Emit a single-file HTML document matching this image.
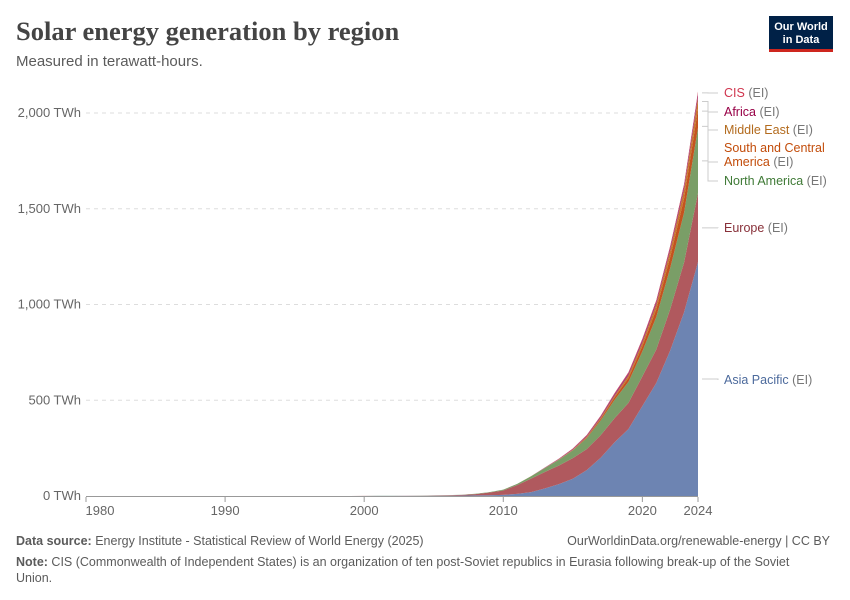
<!DOCTYPE html>
<html><head><meta charset="utf-8">
<style>
body{margin:0;background:#fff;font-family:"Liberation Sans",sans-serif;}
#wrap{position:relative;width:850px;height:600px;overflow:hidden;}
</style></head>
<body>
<div id="wrap">
<svg id="svg" width="850" height="600" xmlns="http://www.w3.org/2000/svg">
<text x="16" y="40" font-family="Liberation Serif, serif" font-size="26.5" font-weight="bold" fill="#444">Solar energy generation by region</text>
<text x="16" y="66" font-size="15" fill="#5b5b5b">Measured in terawatt-hours.</text>
<g>
<rect x="769" y="16" width="64" height="34" fill="#002147"/>
<rect x="769" y="49" width="64" height="3" fill="#ce261e"/>
<text x="801" y="30" font-size="11" fill="#fff" text-anchor="middle" font-weight="bold">Our World</text>
<text x="801" y="43" font-size="11" fill="#fff" text-anchor="middle" font-weight="bold">in Data</text>
</g>
<g id="grid"></g>
<g id="areas"></g>
<g id="xaxis"></g>
<g id="labels"></g>
<text x="16" y="545" font-size="12.5" fill="#5b5b5b"><tspan font-weight="bold">Data source:</tspan> Energy Institute - Statistical Review of World Energy (2025)</text>
<text x="830" y="545" font-size="12.5" fill="#5b5b5b" text-anchor="end">OurWorldinData.org/renewable-energy | CC BY</text>
<text x="16" y="566" font-size="12.5" fill="#5b5b5b"><tspan font-weight="bold">Note:</tspan> CIS (Commonwealth of Independent States) is an organization of ten post-Soviet republics in Eurasia following break-up of the Soviet</text>
<text x="16" y="582" font-size="12.5" fill="#5b5b5b">Union.</text>
</svg>
</div>
<script>
const years=[];for(let y=1980;y<=2024;y++)years.push(y);
const yTicks=[0,500,1000,1500,2000];
const yTickLabels=["0 TWh","500 TWh","1,000 TWh","1,500 TWh","2,000 TWh"];
const xTicks=[1980,1990,2000,2010,2020,2024];
const regions=["Asia Pacific","Europe","North America","South and Central America","Middle East","Africa","CIS"];
// values for 2000..2024 (earlier years ~0)
const asiaPacific=[0.3,0.4,0.5,0.7,0.9,1.2,1.6,2,3,4,6,11,20,40,62,90,135,200,280,350,470,590,760,960,1222];
const europe=[0.1,0.2,0.3,0.4,0.7,1.5,2.5,4,7,14,23,46,71,86,97,108,110,117,126,136,155,175,215,260,360];
const northAmerica=[0.5,0.5,0.5,0.5,0.6,0.6,0.7,0.8,1.5,2,4,6,12,20,30,40,57,77,96,110,130,170,215,260,340];
const southCentralAmerica=[0,0,0,0,0,0,0,0,0,0,0,0,0.2,0.5,1,2,4,8,13,20,28,40,58,75,100];
const middleEast=[0,0,0,0,0,0,0,0,0,0,0,0.2,0.3,0.5,1,2,4,6,8,13,18,25,33,45,55];
const africa=[0,0,0,0,0,0,0,0,0,0,0.1,0.3,0.6,2,3,4,6,8,10,12,14,15,17,20,25];
const cis=[0,0,0,0,0,0,0,0,0,0,0,0,0,0.2,1,2,2.5,3,4,5,6,7,8,9,10];
const series=[asiaPacific,europe,northAmerica,southCentralAmerica,middleEast,africa,cis];
const colors=["#6d84b2","#b0595e","#7a9e67","#c4531e","#c7782e","#a33a78","#c8364f"];
const labelColors=["#4c6a9c","#883039","#3f7a36","#c24c0a","#b36b1e","#970046","#d0354e"];
const names=["asia-pacific","europe","north-america","south-central-america","middle-east","africa","cis"];
const X=y=>86+(y-1980)*(612/44);
const Y=v=>496-v*0.1915;
const NS="http://www.w3.org/2000/svg";
function mk(t,a,p){const e=document.createElementNS(NS,t);for(const k in a)e.setAttribute(k,a[k]);p.appendChild(e);return e;}
const grid=document.getElementById('grid');
yTicks.forEach((t,i)=>{
 if(t>0){const l=mk('line',{x1:86,x2:698,y1:Y(t),y2:Y(t),stroke:'#ddd','stroke-dasharray':'4,4'},grid);
 
 }
 const tx=mk('text',{x:81,y:Y(t)+4,'text-anchor':'end','font-size':13,fill:'#666'},grid);tx.textContent=yTickLabels[i];
 
 
});
function val(s,yi){const y=years[yi];return y<2000?0:s[y-2000];}
const areas=document.getElementById('areas');
let base=years.map(()=>0);
series.forEach((s,si)=>{
 const top=years.map((y,i)=>base[i]+val(s,i));
 let d='M'+years.map((y,i)=>X(y)+','+Y(top[i])).join('L');
 for(let i=years.length-1;i>=0;i--)d+='L'+X(years[i])+','+Y(base[i]);
 const p=mk('path',{d:d+'Z',fill:colors[si]},areas);
 
 
 base=top;
});
const xa=document.getElementById('xaxis');
const ax=mk('line',{x1:86,x2:698,y1:496.5,y2:496.5,stroke:'#999'},xa);


xTicks.forEach(t=>{
 mk('line',{x1:X(t),x2:X(t),y1:497,y2:502,stroke:'#999'},xa);
 const tx=mk('text',{x:t==1980?X(t)+14:X(t),y:515,'text-anchor':'middle','font-size':13,fill:'#666'},xa);tx.textContent=t;
 
 
});
// labels
const lab=document.getElementById('labels');
const labY=[[384],[232],[185],[152,166],[134],[116],[97]];
const lineTops=[Y(asiaPacific[24]/2),Y(1400),Y(1750),Y(1930),Y(2010),Y(2060),Y(2105)];
labY.forEach((ys,si)=>{
 const n=regions[si];
 const g=mk('g',{},lab);
 
 
 const ly=ys[ys.length-1]-4;
 mk('path',{d:`M702,${lineTops[si]}H${si>1?708:718}V${ly}H718`,stroke:'#ccc',fill:'none'},g);
 if(ys.length==1){const t=mk('text',{x:724,y:ys[0],'font-size':12.5,fill:labelColors[si]},g);t.innerHTML=n+' <tspan fill="#777">(EI)</tspan>';}
 else{const t1=mk('text',{x:724,y:ys[0],'font-size':12.5,fill:labelColors[si]},g);t1.textContent='South and Central';
 const t2=mk('text',{x:724,y:ys[1],'font-size':12.5,fill:labelColors[si]},g);t2.innerHTML='America <tspan fill="#777">(EI)</tspan>';}
});
</script>
</body></html>
